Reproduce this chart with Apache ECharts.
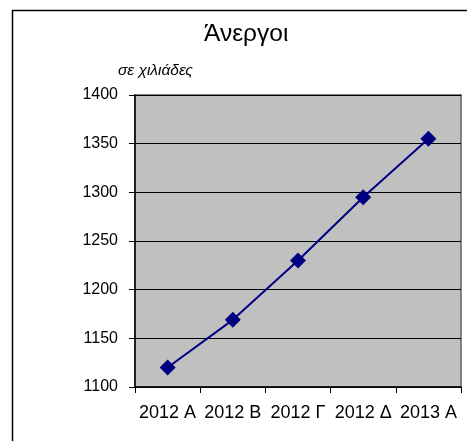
<!DOCTYPE html>
<html>
<head>
<meta charset="utf-8">
<script src="https://cdn.jsdelivr.net/npm/echarts@6/dist/echarts.min.js"></script>
<style>html,body{margin:0;padding:0;background:#fff;}#c{width:467px;height:441px;}</style>
</head>
<body>
<div id="c"></div>
<script>
const categories = ['2012 A', '2012 B', '2012 Γ', '2012 Δ', '2013 A'];
const values = [1120, 1169, 1230, 1295, 1355];
const yMin = 1100, yMax = 1400, yStep = 50;
const titleText = 'Άνεργοι';
const subtitleText = 'σε χιλιάδες';

const chart = echarts.init(document.getElementById('c'), null, {renderer: 'canvas'});
const font = 'Liberation Sans';
chart.setOption({
  animation: false,
  backgroundColor: '#fff',
  graphic: [
    {type: 'rect', shape: {x: 12.5, y: 10.5, width: 480, height: 450}, style: {fill: 'none', stroke: '#000', lineWidth: 1.5}, z: 0},
    {type: 'text', left: 204, top: 22, style: {text: titleText, fontSize: 24.5, fontFamily: font, fill: '#000'}},
    {type: 'text', left: 118, top: 63, style: {text: subtitleText, fontSize: 15.5, fontStyle: 'italic', fontFamily: font, fill: '#000'}}
  ],
  grid: {left: 135, top: 95, right: 6, bottom: 54, show: true, backgroundColor: '#c0c0c0', borderColor: '#808080', borderWidth: 2},
  xAxis: {
    type: 'category', data: categories, boundaryGap: true,
    axisLine: {lineStyle: {color: '#000', width: 1.5}},
    axisTick: {show: true, length: 6, lineStyle: {color: '#000'}},
    axisLabel: {color: '#000', fontSize: 18, fontFamily: font, margin: 17, interval: 0},
    splitLine: {show: false}
  },
  yAxis: {
    type: 'value', min: yMin, max: yMax, interval: yStep,
    axisLine: {show: true, lineStyle: {color: '#000', width: 1.5}},
    axisTick: {show: true, length: 6, lineStyle: {color: '#000'}},
    axisLabel: {color: '#000', fontSize: 16, fontFamily: font, margin: 17, formatter: v => String(v)},
    splitLine: {show: true, lineStyle: {color: '#000', width: 1}}
  },
  series: [{
    type: 'line', data: values,
    symbol: 'diamond', symbolSize: 16,
    lineStyle: {color: '#000080', width: 2},
    itemStyle: {color: '#000080'}
  }]
});
</script>
</body>
</html>
